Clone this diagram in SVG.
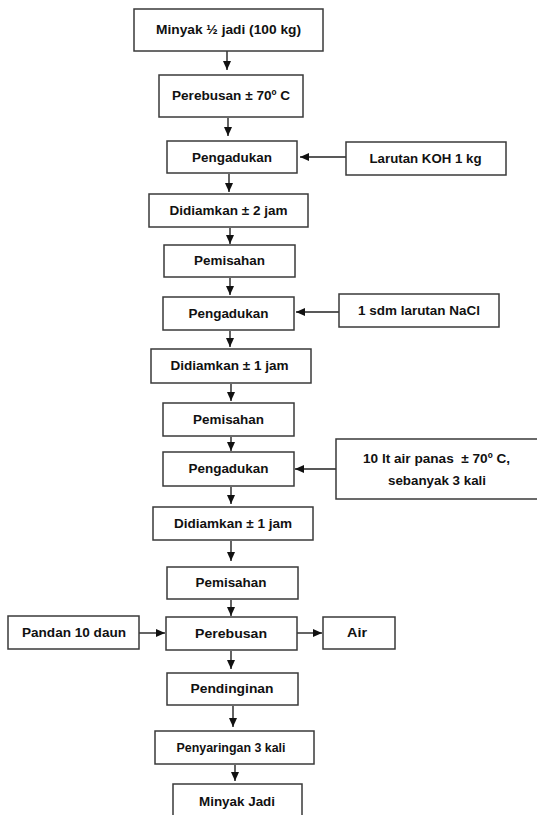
<svg xmlns="http://www.w3.org/2000/svg" width="537" height="815" viewBox="0 0 537 815">
<style>
.box{fill:#fff;stroke:#3a3a3a;stroke-width:1.5}
.t{font-family:"Liberation Sans",Arial,sans-serif;font-weight:bold;font-size:12px;fill:#111;text-anchor:middle}
.c{stroke:#222;stroke-width:1.4;fill:none;marker-end:url(#ah)}
</style>
<defs>
<marker id="ah" markerUnits="userSpaceOnUse" markerWidth="9" markerHeight="9" viewBox="0 0 9 9" refX="9" refY="4.5" orient="auto">
<path d="M0,0.5 L9,4.5 L0,8.5 Z" fill="#111"/>
</marker>
</defs>
<rect width="537" height="815" fill="#fff"/>
<g id="connectors">
<line class="c" x1="227" y1="51" x2="227" y2="70"/>
<line class="c" x1="228" y1="118" x2="228" y2="136"/>
<line class="c" x1="229" y1="174" x2="229" y2="192"/>
<line class="c" x1="230" y1="228" x2="230" y2="244"/>
<line class="c" x1="230" y1="278" x2="230" y2="295"/>
<line class="c" x1="230" y1="331" x2="230" y2="347"/>
<line class="c" x1="231" y1="384" x2="231" y2="401"/>
<line class="c" x1="231" y1="437" x2="231" y2="451"/>
<line class="c" x1="231" y1="487" x2="231" y2="504"/>
<line class="c" x1="231" y1="541" x2="231" y2="561"/>
<line class="c" x1="231" y1="600" x2="231" y2="616"/>
<line class="c" x1="231" y1="651" x2="231" y2="669"/>
<line class="c" x1="233" y1="706" x2="233" y2="727"/>
<line class="c" x1="235" y1="765" x2="235" y2="781"/>
<line class="c" x1="346" y1="157" x2="300" y2="157"/>
<line class="c" x1="339" y1="312" x2="296" y2="312"/>
<line class="c" x1="336" y1="469" x2="295" y2="469"/>
<line class="c" x1="139" y1="633" x2="165" y2="633"/>
<line class="c" x1="297" y1="633" x2="322" y2="633"/>
</g>
<g id="n1"><rect class="box" x="134" y="9" width="189" height="42"/><text class="t" x="228.5" y="34" textLength="145" lengthAdjust="spacingAndGlyphs">Minyak ½ jadi (100 kg)</text></g>
<g id="n2"><rect class="box" x="159" y="75" width="144" height="42"/><text class="t" x="231" y="100" textLength="118" lengthAdjust="spacingAndGlyphs">Perebusan ± 70º C</text></g>
<g id="n3"><rect class="box" x="167" y="141" width="130" height="32"/><text class="t" x="232" y="161.5" textLength="80" lengthAdjust="spacingAndGlyphs">Pengadukan</text></g>
<g id="koh"><rect class="box" x="346" y="142" width="160" height="33"/><text class="t" x="425.5" y="162.5" textLength="112" lengthAdjust="spacingAndGlyphs">Larutan KOH 1 kg</text></g>
<g id="n4"><rect class="box" x="149" y="194" width="159" height="33"/><text class="t" x="228.5" y="215" textLength="118" lengthAdjust="spacingAndGlyphs">Didiamkan ± 2 jam</text></g>
<g id="n5"><rect class="box" x="164" y="245" width="131" height="32"/><text class="t" x="229.5" y="265" textLength="71" lengthAdjust="spacingAndGlyphs">Pemisahan</text></g>
<g id="n6"><rect class="box" x="163" y="297" width="131" height="33"/><text class="t" x="228.5" y="317.5" textLength="80" lengthAdjust="spacingAndGlyphs">Pengadukan</text></g>
<g id="nacl"><rect class="box" x="339" y="294" width="160" height="33"/><text class="t" x="419" y="314.5" textLength="122" lengthAdjust="spacingAndGlyphs">1 sdm larutan NaCl</text></g>
<g id="n7"><rect class="box" x="151" y="349" width="160" height="34"/><text class="t" x="229.5" y="370" textLength="118" lengthAdjust="spacingAndGlyphs">Didiamkan ± 1 jam</text></g>
<g id="n8"><rect class="box" x="163" y="403" width="131" height="33"/><text class="t" x="228.5" y="423.5" textLength="71" lengthAdjust="spacingAndGlyphs">Pemisahan</text></g>
<g id="n9"><rect class="box" x="163" y="452" width="131" height="34"/><text class="t" x="228.5" y="473" textLength="80" lengthAdjust="spacingAndGlyphs">Pengadukan</text></g>
<g id="water"><rect class="box" x="336" y="439" width="205" height="60"/><text class="t" x="436.5" y="463" textLength="147" lengthAdjust="spacingAndGlyphs" xml:space="preserve">10 lt air panas  ± 70º C,</text><text class="t" x="437" y="485" textLength="98" lengthAdjust="spacingAndGlyphs">sebanyak 3 kali</text></g>
<g id="n10"><rect class="box" x="153" y="507" width="160" height="33"/><text class="t" x="233" y="527.5" textLength="118" lengthAdjust="spacingAndGlyphs">Didiamkan ± 1 jam</text></g>
<g id="n11"><rect class="box" x="167" y="567" width="131" height="32"/><text class="t" x="231" y="587" textLength="71" lengthAdjust="spacingAndGlyphs">Pemisahan</text></g>
<g id="n12"><rect class="box" x="166" y="617" width="131" height="33"/><text class="t" x="231" y="637.5" textLength="72" lengthAdjust="spacingAndGlyphs">Perebusan</text></g>
<g id="pandan"><rect class="box" x="8" y="616" width="131" height="33"/><text class="t" x="74" y="636.5" textLength="104" lengthAdjust="spacingAndGlyphs">Pandan 10 daun</text></g>
<g id="air"><rect class="box" x="323" y="617" width="72" height="32"/><text class="t" x="357" y="637" textLength="20" lengthAdjust="spacingAndGlyphs">Air</text></g>
<g id="n13"><rect class="box" x="167" y="673" width="131" height="32"/><text class="t" x="232" y="693" textLength="83" lengthAdjust="spacingAndGlyphs">Pendinginan</text></g>
<g id="n14"><rect class="box" x="155" y="731" width="159" height="33"/><text class="t" x="231" y="751.5" textLength="109" lengthAdjust="spacingAndGlyphs">Penyaringan 3 kali</text></g>
<g id="n15"><rect class="box" x="173" y="784" width="129" height="40"/><text class="t" x="237" y="806" textLength="76" lengthAdjust="spacingAndGlyphs">Minyak Jadi</text></g>
</svg>
